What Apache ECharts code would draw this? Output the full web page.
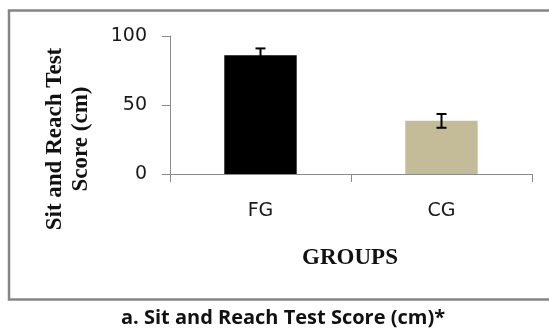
<!DOCTYPE html>
<html>
<head>
<meta charset="utf-8">
<script src="https://cdn.jsdelivr.net/npm/echarts@6/dist/echarts.min.js"></script>
<style>
  html, body { margin: 0; padding: 0; background: #ffffff; }
  #chart { width: 549px; height: 332px; }
</style>
</head>
<body>
<div id="chart"></div>
<script>
// Group names and mean scores with their error margins
const groups = ['FG', 'CG'];
const scores = [86, 38.5];
const errors = [5, 5];
const barColors = ['#000000', '#c4bc98'];
const yTicks = [0, 50, 100];

const chart = echarts.init(document.getElementById('chart'), null, { renderer: 'canvas' });

const option = {
  animation: false,
  backgroundColor: '#ffffff',
  grid: { left: 170, right: 17, top: 36, bottom: 158 },
  xAxis: {
    type: 'category',
    data: groups,
    axisLine: { lineStyle: { color: '#8a8a8a', width: 1 } },
    axisTick: { show: true, length: 8, lineStyle: { color: '#8a8a8a' } },
    axisLabel: { color: '#1a1a1a', fontFamily: 'DejaVu Sans', fontSize: 19, margin: 28 }
  },
  yAxis: {
    type: 'value',
    min: yTicks[0],
    max: yTicks[yTicks.length - 1],
    interval: 50,
    splitLine: { show: false },
    axisLine: { show: true, lineStyle: { color: '#8a8a8a', width: 1 } },
    axisTick: { show: true, length: 8, lineStyle: { color: '#8a8a8a' } },
    axisLabel: { color: '#1a1a1a', fontFamily: 'DejaVu Sans', fontSize: 19, margin: 23 }
  },
  series: [
    {
      type: 'bar',
      barWidth: '40%',
      data: scores.map((v, i) => ({ value: v, itemStyle: { color: barColors[i] } }))
    },
    {
      // error bars drawn as a vertical stroke with two caps
      type: 'custom',
      z: 5,
      data: scores.map((v, i) => [i, v - errors[i], v + errors[i]]),
      renderItem: function (params, api) {
        const lo = api.coord([api.value(0), api.value(1)]);
        const hi = api.coord([api.value(0), api.value(2)]);
        const cap = 5;
        const style = { stroke: '#000', lineWidth: 2 };
        return {
          type: 'group',
          children: [
            { type: 'line', shape: { x1: hi[0], y1: hi[1], x2: lo[0], y2: lo[1] }, style: style },
            { type: 'line', shape: { x1: hi[0] - cap, y1: hi[1], x2: hi[0] + cap, y2: hi[1] }, style: style },
            { type: 'line', shape: { x1: lo[0] - cap, y1: lo[1], x2: lo[0] + cap, y2: lo[1] }, style: style }
          ]
        };
      }
    }
  ],
  graphic: [
    {
      type: 'rect',
      shape: { x: 9, y: 10.5, width: 545, height: 289 },
      style: { fill: 'none', stroke: '#858585', lineWidth: 2.5 },
      silent: true
    },
    {
      type: 'text',
      x: 68, y: 139,
      rotation: Math.PI / 2,
      style: {
        text: 'Sit and Reach Test\nScore (cm)',
        fontFamily: 'Liberation Serif',
        fontWeight: 'bold',
        fontSize: 23,
        lineHeight: 26,
        fill: '#111',
        align: 'center',
        verticalAlign: 'middle'
      }
    },
    {
      type: 'text',
      x: 350, y: 258,
      style: {
        text: 'GROUPS',
        fontFamily: 'Liberation Serif',
        fontWeight: 'bold',
        fontSize: 23,
        fill: '#111',
        align: 'center',
        verticalAlign: 'middle'
      }
    },
    {
      type: 'text',
      x: 283, y: 318,
      style: {
        text: 'a. Sit and Reach Test Score (cm)*',
        fontFamily: 'Open Sans',
        fontWeight: 'bold',
        fontSize: 20,
        fill: '#111',
        align: 'center',
        verticalAlign: 'middle'
      }
    }
  ]
};

chart.setOption(option);
</script>
</body>
</html>
